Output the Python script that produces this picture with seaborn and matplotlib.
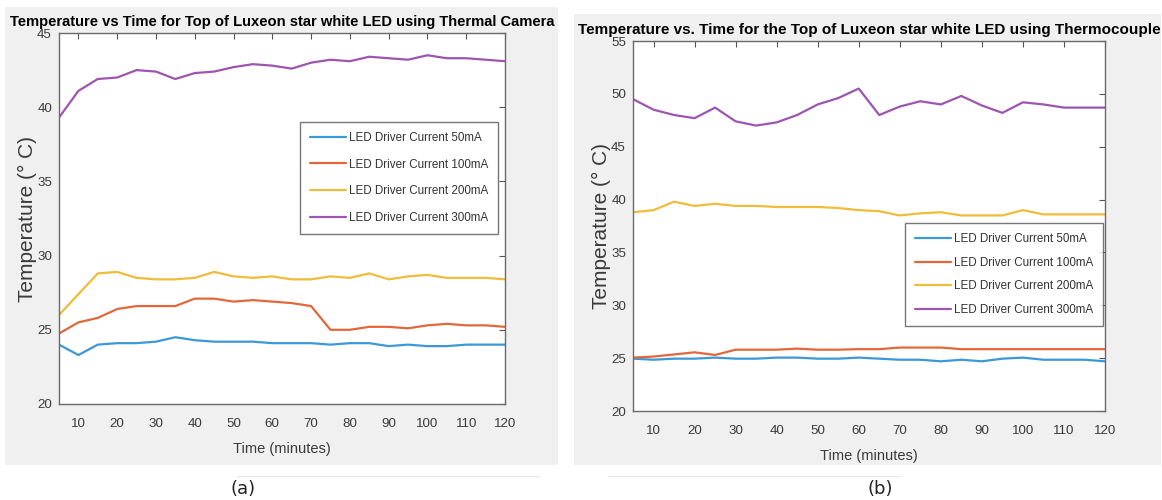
import matplotlib
matplotlib.use("Agg")
import matplotlib.pyplot as plt
import seaborn as sns
import pandas as pd
from matplotlib import font_manager
from matplotlib.patches import Rectangle
from matplotlib.lines import Line2D

sns.set_style("white")

names = {f.name for f in font_manager.fontManager.ttflist}
if "Liberation Sans Narrow" in names:
    NARROW, K = "Liberation Sans Narrow", 1.0
else:
    NARROW, K = "Liberation Sans", 0.84
plt.rcParams['font.family'] = [NARROW, 'DejaVu Sans']

# data (minutes, deg C)
times = [5, 10, 15, 20, 25, 30, 35, 40, 45, 50, 55, 60,
         65, 70, 75, 80, 85, 90, 95, 100, 105, 110, 115, 120]
currents = ["LED Driver Current 50mA", "LED Driver Current 100mA",
            "LED Driver Current 200mA", "LED Driver Current 300mA"]

cam_50 = [24.0, 23.3, 24.0, 24.1, 24.1, 24.2, 24.5, 24.3, 24.2, 24.2, 24.2, 24.1,
          24.1, 24.1, 24.0, 24.1, 24.1, 23.9, 24.0, 23.9, 23.9, 24.0, 24.0, 24.0]
cam_100 = [24.75, 25.5, 25.8, 26.4, 26.6, 26.6, 26.6, 27.1, 27.1, 26.9, 27.0, 26.9,
           26.8, 26.6, 25.0, 25.0, 25.2, 25.2, 25.1, 25.3, 25.4, 25.3, 25.3, 25.2]
cam_200 = [26.0, 27.4, 28.8, 28.9, 28.5, 28.4, 28.4, 28.5, 28.9, 28.6, 28.5, 28.6,
           28.4, 28.4, 28.6, 28.5, 28.8, 28.4, 28.6, 28.7, 28.5, 28.5, 28.5, 28.4]
cam_300 = [39.3, 41.1, 41.9, 42.0, 42.5, 42.4, 41.9, 42.3, 42.4, 42.7, 42.9, 42.8,
           42.6, 43.0, 43.2, 43.1, 43.4, 43.3, 43.2, 43.5, 43.3, 43.3, 43.2, 43.1]

tc_50 = [24.95, 24.85, 24.95, 24.95, 25.05, 24.95, 24.95, 25.05, 25.05, 24.95, 24.95, 25.05,
         24.95, 24.85, 24.85, 24.7, 24.85, 24.7, 24.95, 25.05, 24.85, 24.85, 24.85, 24.7]
tc_100 = [25.05, 25.15, 25.35, 25.55, 25.3, 25.8, 25.8, 25.8, 25.9, 25.8, 25.8, 25.85,
          25.85, 26.0, 26.0, 26.0, 25.85, 25.85, 25.85, 25.85, 25.85, 25.85, 25.85, 25.85]
tc_200 = [38.8, 39.0, 39.8, 39.4, 39.6, 39.4, 39.4, 39.3, 39.3, 39.3, 39.2, 39.0,
          38.9, 38.5, 38.7, 38.8, 38.5, 38.5, 38.5, 39.0, 38.6, 38.6, 38.6, 38.6]
tc_300 = [49.5, 48.5, 48.0, 47.7, 48.7, 47.4, 47.0, 47.3, 48.0, 49.0, 49.6, 50.5,
          48.0, 48.8, 49.3, 49.0, 49.8, 48.9, 48.2, 49.2, 49.0, 48.7, 48.7, 48.7]

x_ticks = [10, 20, 30, 40, 50, 60, 70, 80, 90, 100, 110, 120]
y_ticks_a = [20, 25, 30, 35, 40, 45]
y_ticks_b = [20, 25, 30, 35, 40, 45, 50, 55]

colors = ["#3d98d8", "#e2683c", "#f0bc3a", "#9e55b0"]


def long_df(series):
    rows = []
    for name, vals in zip(currents, series):
        for t, v in zip(times, vals):
            rows.append({"time": t, "temp": v, "current": name})
    return pd.DataFrame(rows)


df_a = long_df([cam_50, cam_100, cam_200, cam_300])
df_b = long_df([tc_50, tc_100, tc_200, tc_300])

fig = plt.figure(figsize=(11.62, 5.0), dpi=100)
W, H = 1162, 500

# grey panel backgrounds (MATLAB figure colour)
for rect in [(5, 35, 553, 458), (574, 35, 587, 451)]:
    fig.add_artist(Rectangle((rect[0] / W, rect[1] / H), rect[2] / W, rect[3] / H,
                             transform=fig.transFigure, facecolor="#f0f0f0",
                             edgecolor="none", zorder=-5))
fig.add_artist(Line2D([237 / W, 539 / W], [24 / H, 24 / H], transform=fig.transFigure,
                      color="#e8e8e8", lw=0.8, zorder=-5))
fig.add_artist(Line2D([608 / W, 901 / W], [24 / H, 24 / H], transform=fig.transFigure,
                      color="#e8e8e8", lw=0.8, zorder=-5))

ax_a = fig.add_axes([59 / W, 96 / H, 446 / W, 371 / H])
ax_b = fig.add_axes([633 / W, 89 / H, 472 / W, 370 / H])

panels = [
    (ax_a, df_a, (20, 45), y_ticks_a,
     "Temperature vs Time for Top of Luxeon star white LED using Thermal Camera",
     12.7, (0.984, 0.760), 1.25),
    (ax_b, df_b, (20, 55), y_ticks_b,
     "Temperature vs. Time for the Top of Luxeon star white LED using Thermocouple",
     13.1, (0.996, 0.508), 1.0),
]

for ax, df, ylim, yt, title, tsize, anchor, lspace in panels:
    ax.set_zorder(2)
    sns.lineplot(data=df, x="time", y="temp", hue="current", palette=colors,
                 linewidth=1.6, ax=ax, legend=False)
    ax.set_facecolor("white")
    ax.set_xlim(5, 120)
    ax.set_ylim(*ylim)
    ax.set_xticks(x_ticks)
    ax.set_yticks(yt)
    ax.tick_params(direction="in", length=4, width=0.8, top=True, right=True,
                   colors="#555555", labelcolor="#3a3a3a", labelsize=11.5 * K)
    ax.tick_params(axis="x", pad=10)
    ax.tick_params(axis="y", pad=5)
    for sp in ax.spines.values():
        sp.set_color("#6a6a6a")
        sp.set_linewidth(1.0)
        sp.set_visible(True)
    ax.set_title(title, fontsize=tsize * K, fontweight="bold", color="black", pad=5)
    ax.set_xlabel("Time (minutes)", fontsize=12.5 * K, color="#3a3a3a", labelpad=9)
    ax.set_ylabel("Temperature (\u00b0 C)", fontsize=15, color="#3a3a3a",
                  family=["Liberation Sans", "DejaVu Sans"], labelpad=0)
    handles = [Line2D([], [], color=c, lw=1.6) for c in colors]
    leg = ax.legend(handles, currents, loc="upper right", bbox_to_anchor=anchor,
                    borderaxespad=0, fontsize=10 * K, frameon=True, fancybox=False,
                    handlelength=3.1, handletextpad=0.25, labelspacing=lspace,
                    borderpad=0.85)
    leg.get_frame().set_edgecolor("#555555")
    leg.get_frame().set_linewidth(1.0)
    for txt in leg.get_texts():
        txt.set_color("#333333")

fig.text(243 / W, 1 - 489 / H, "(a)", fontsize=13, ha="center", va="center",
         family=["DejaVu Sans"], color="#222222")
fig.text(880 / W, 1 - 489 / H, "(b)", fontsize=13, ha="center", va="center",
         family=["DejaVu Sans"], color="#222222")

fig.savefig("out.png", dpi=100, facecolor="white")
